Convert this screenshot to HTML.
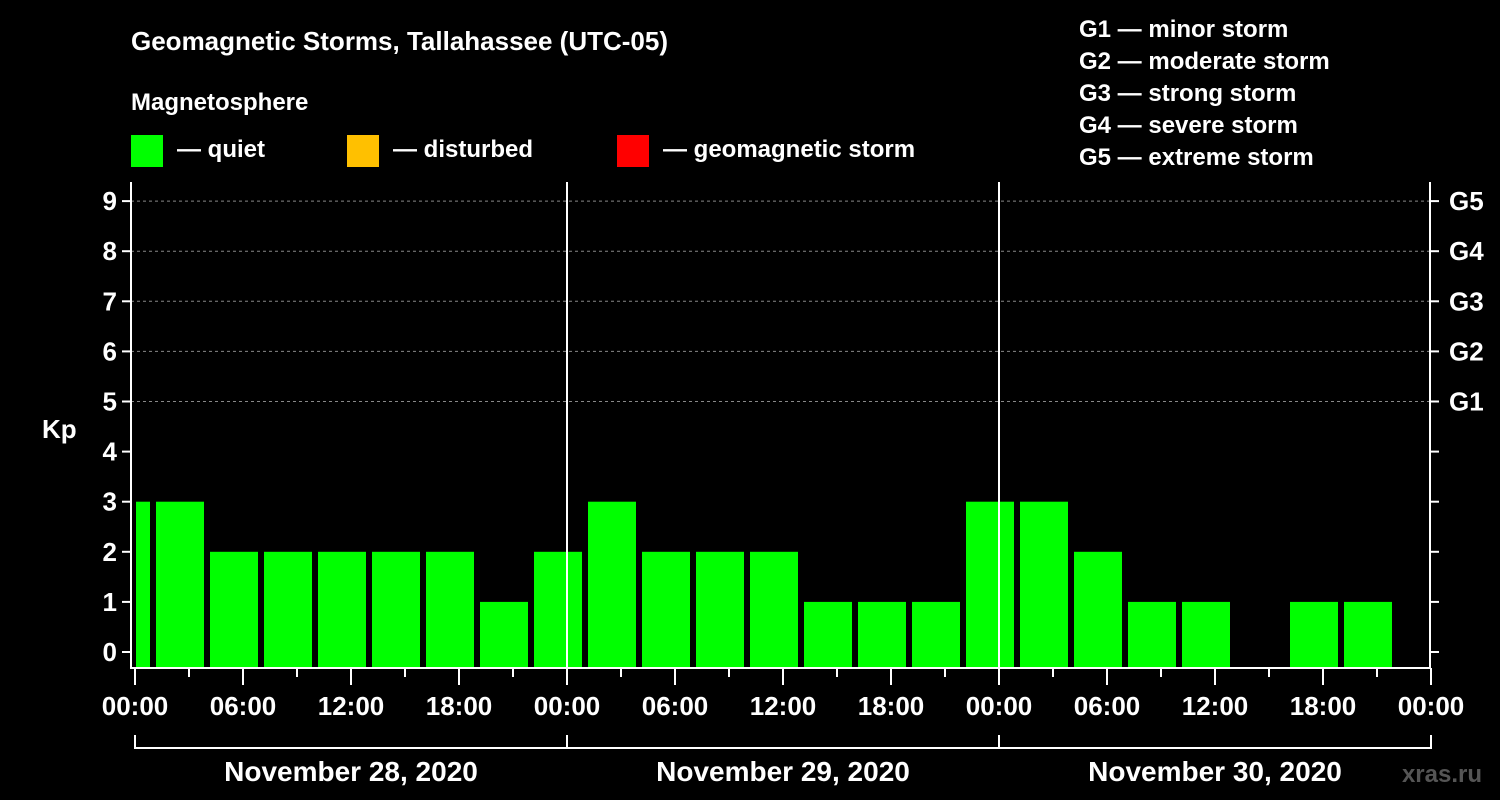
<!DOCTYPE html>
<html><head><meta charset="utf-8"><style>
html,body{margin:0;padding:0;background:#000;}
svg{display:block;font-family:"Liberation Sans",Arial,sans-serif;font-weight:bold;}
</style></head><body>
<svg id="chart" width="1500" height="800" viewBox="0 0 1500 800">
<rect x="0" y="0" width="1500" height="800" fill="#000"/>
<text x="131" y="50" fill="#fff" font-size="26">Geomagnetic Storms, Tallahassee (UTC-05)</text>
<text x="131" y="110" fill="#fff" font-size="24">Magnetosphere</text>
<g><rect x="131" y="135" width="32" height="32" fill="#00ff00"/><text x="177" y="157" fill="#fff" font-size="24">— quiet</text></g>
<g><rect x="347" y="135" width="32" height="32" fill="#ffc000"/><text x="393" y="157" fill="#fff" font-size="24">— disturbed</text></g>
<g><rect x="617" y="135" width="32" height="32" fill="#ff0000"/><text x="663" y="157" fill="#fff" font-size="24">— geomagnetic storm</text></g>
<g fill="#fff" font-size="24">
<text x="1079" y="37">G1 — minor storm</text>
<text x="1079" y="69">G2 — moderate storm</text>
<text x="1079" y="101">G3 — strong storm</text>
<text x="1079" y="133">G4 — severe storm</text>
<text x="1079" y="165">G5 — extreme storm</text>
</g>
<text x="42" y="438" fill="#fff" font-size="26">Kp</text>
<g id="grid"></g><g id="bars"></g><g id="axes"></g>
<text x="1482" y="782" fill="#555" font-size="24" text-anchor="end">xras.ru</text>
</svg>
<script>
const kpStartHours = [-2,1,4,7,10,13,16,19,22,25,28,31,34,37,40,43,46,49,52,55,58,61,64,67];
const kpValues = [3,3,2,2,2,2,2,1,2,3,2,2,2,1,1,1,3,3,2,1,1,null,1,1];
const yTicks = [0,1,2,3,4,5,6,7,8,9];
const gLabels = ["G1","G2","G3","G4","G5"];
const gLevels = [5,6,7,8,9];
const xTickLabels = ["00:00","06:00","12:00","18:00","00:00","06:00","12:00","18:00","00:00","06:00","12:00","18:00","00:00"];
const dayLabels = ["November 28, 2020","November 29, 2020","November 30, 2020"];
const NS="http://www.w3.org/2000/svg";
const X0=135, PXH=18, L=131, R=1430, TOP=182, BOT=668;
const xs=h=>X0+h*PXH;
const ys=v=>652-v*50.1;
function mk(t,a,p){const e=document.createElementNS(NS,t);for(const k in a)e.setAttribute(k,a[k]);p.appendChild(e);return e;}
const grid=document.getElementById('grid'),bars=document.getElementById('bars'),axes=document.getElementById('axes');
gLevels.forEach(v=>{const l=mk('line',{x1:L,x2:R,y1:ys(v),y2:ys(v),stroke:'#888','stroke-dasharray':'3,3','stroke-width':1},grid);

});
kpValues.forEach((v,i)=>{if(v===null)return;let x1=Math.max(xs(kpStartHours[i])+3,L+5),x2=Math.min(xs(kpStartHours[i]+3)-3,R);
const r=mk('rect',{x:x1,y:ys(v),width:x2-x1,height:BOT-ys(v),fill:v>=5?'#ff0000':(v>=4?'#ffc000':'#00ff00')},bars);

});
[1,2].forEach(d=>{const l=mk('line',{x1:xs(24*d),x2:xs(24*d),y1:TOP,y2:BOT,stroke:'#fff','stroke-width':2},axes);

});
mk('path',{d:`M${L} ${TOP}V${BOT}H${R}V${TOP}`,stroke:'#fff','stroke-width':2,fill:'none'},axes);
yTicks.forEach(v=>{mk('line',{x1:L-9,x2:L,y1:ys(v),y2:ys(v),stroke:'#fff','stroke-width':2},axes);
mk('line',{x1:R,x2:R+9,y1:ys(v),y2:ys(v),stroke:'#fff','stroke-width':2},axes);
const t=mk('text',{x:L-14,y:ys(v)+9,fill:'#fff','font-size':26,'text-anchor':'end'},axes);t.textContent=v;

});
gLabels.forEach((g,i)=>{const t=mk('text',{x:R+19,y:ys(gLevels[i])+9,fill:'#fff','font-size':26},axes);t.textContent=g;

});
for(let h=0;h<=72;h+=3){const major=h%6===0;mk('line',{x1:xs(h),x2:xs(h),y1:BOT,y2:BOT+(major?17:9),stroke:'#fff','stroke-width':2},axes);}
xTickLabels.forEach((s,i)=>{const t=mk('text',{x:xs(i*6),y:715,fill:'#fff','font-size':26,'text-anchor':'middle'},axes);t.textContent=s;

});
mk('path',{d:`M${xs(0)} 735V748H${xs(72)}V735M${xs(24)} 735V748M${xs(48)} 735V748`,stroke:'#fff','stroke-width':2,fill:'none'},axes);
dayLabels.forEach((s,i)=>{const t=mk('text',{x:xs(24*i+12),y:781,fill:'#fff','font-size':28,'text-anchor':'middle'},axes);t.textContent=s;

});
</script>
</body></html>
